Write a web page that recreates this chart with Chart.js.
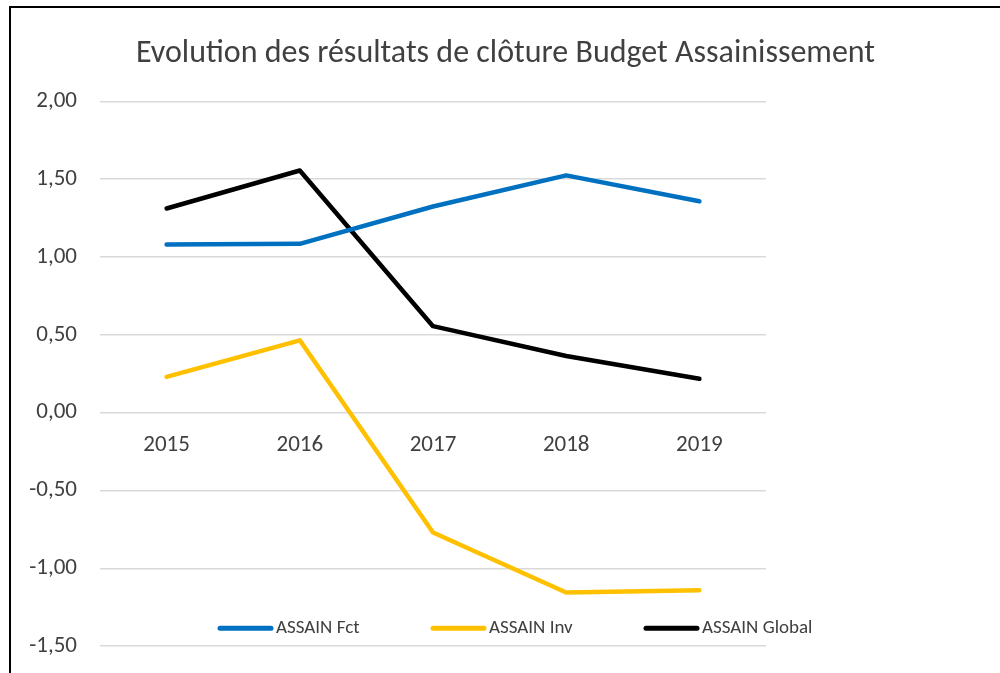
<!DOCTYPE html>
<html>
<head>
<meta charset="utf-8">
<script src="https://cdn.jsdelivr.net/npm/chart.js@4"></script>
<style>
    html, body { margin: 0; padding: 0; background: #fff; overflow: hidden; }
    .frame {
        position: absolute;
        left: 9px;
        top: 6px;
        width: 1000px;
        height: 720px;
        border-left: 2px solid #000;
        border-top: 2px solid #000;
        box-sizing: border-box;
    }
    .frame canvas { position: absolute; left: 0; top: 0; }
</style>
</head>
<body>
<div class="frame">
    <canvas id="resultChart" width="989" height="675"></canvas>
</div>
<script>
// ========================
// Data
// ========================
const years = ['2015', '2016', '2017', '2018', '2019'];
const assainFct = [1.08, 1.085, 1.325, 1.525, 1.358];
const assainInv = [0.23, 0.465, -0.77, -1.155, -1.14];
const assainGlobal = [1.312, 1.556, 0.556, 0.364, 0.218];

const yMin = -1.5;
const yMax = 2;
const yStep = 0.5;

const fontFamily = "Carlito, 'Liberation Sans Narrow', 'Open Sans', sans-serif";
const textColor = '#404040';

// Legend drawn inside the plot, like the spreadsheet chart
const insideLegend = {
    id: 'insideLegend',
    afterDraw(chart) {
        const ctx = chart.ctx;
        const area = chart.chartArea;
        const y = area.bottom - 18;
        const slot = 213;
        let x = area.left + 118;
        ctx.save();
        ctx.font = '19px ' + fontFamily;
        ctx.textBaseline = 'middle';
        ctx.fillStyle = textColor;
        chart.data.datasets.forEach(ds => {
            ctx.strokeStyle = ds.borderColor;
            ctx.lineWidth = 5;
            ctx.lineCap = 'round';
            ctx.beginPath();
            ctx.moveTo(x + 2, y);
            ctx.lineTo(x + 53, y);
            ctx.stroke();
            ctx.fillText(ds.label, x + 58, y);
            x += slot;
        });
        ctx.restore();
    }
};

const lineStyle = {
    borderWidth: 4.5,
    pointRadius: 0,
    tension: 0,
    borderCapStyle: 'round',
    borderJoinStyle: 'round',
    fill: false
};

new Chart(document.getElementById('resultChart'), {
    type: 'line',
    data: {
        labels: years,
        datasets: [
            { label: 'ASSAIN Fct', data: assainFct, borderColor: '#0070C0', ...lineStyle },
            { label: 'ASSAIN Inv', data: assainInv, borderColor: '#FFC000', ...lineStyle },
            { label: 'ASSAIN Global', data: assainGlobal, borderColor: '#000000', ...lineStyle }
        ]
    },
    options: {
        responsive: false,
        animation: false,
        layout: {
            padding: { left: 0, right: 0, top: 0, bottom: 14 }
        },
        plugins: {
            legend: { display: false },
            tooltip: { enabled: false },
            title: {
                display: true,
                text: 'Evolution des résultats de clôture Budget Assainissement',
                color: textColor,
                font: { family: fontFamily, size: 32, weight: 'normal' },
                padding: { top: 27, bottom: 28 }
            }
        },
        scales: {
            x: {
                position: { y: 0 },
                offset: true,
                grid: { display: false },
                border: { display: false },
                ticks: {
                    color: textColor,
                    padding: 11,
                    font: { family: fontFamily, size: 23 }
                }
            },
            y: {
                min: yMin,
                max: yMax,
                afterFit: scale => { scale.width = 89; },
                grid: { color: '#d9d9d9', lineWidth: 1.5, drawTicks: false },
                border: { display: false },
                ticks: {
                    stepSize: yStep,
                    color: textColor,
                    padding: 23,
                    font: { family: fontFamily, size: 23 },
                    callback: value => value.toFixed(2).replace('.', ',')
                }
            },
            // empty space on the right of the plot
            spacer: {
                position: 'right',
                grid: { display: false },
                border: { display: false },
                ticks: { display: false },
                afterFit: scale => { scale.width = 234; }
            }
        }
    },
    plugins: [insideLegend]
});
</script>
</body>
</html>
